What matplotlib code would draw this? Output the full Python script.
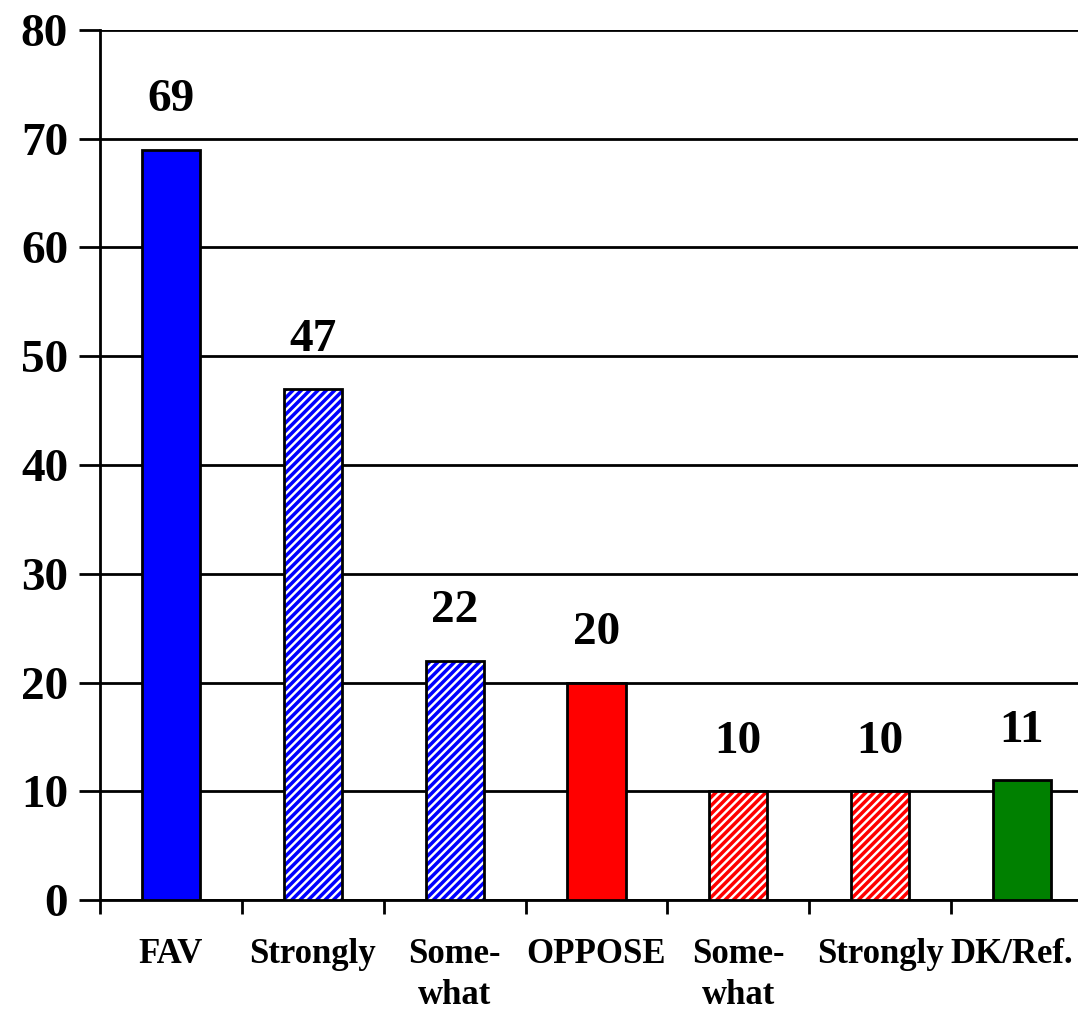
import matplotlib

matplotlib.use("Agg")
import matplotlib.pyplot as plt  # noqa: E402
from matplotlib.transforms import ScaledTranslation  # noqa: E402

categories = ["FAV", "Strongly", "Some-\nwhat", "OPPOSE", "Some-\nwhat", "Strongly", "DK/Ref."]
values = [69, 47, 22, 20, 10, 10, 11]
colors = ["#0000FF", "#0000FF", "#0000FF", "#FF0000", "#FF0000", "#FF0000", "#008000"]
hatched = [False, True, True, False, True, True, False]
yticks = [0, 10, 20, 30, 40, 50, 60, 70, 80]

plt.rcParams["font.family"] = ["Liberation Serif", "DejaVu Serif"]
plt.rcParams["font.weight"] = "bold"
plt.rcParams["hatch.linewidth"] = 2.5

fig = plt.figure(figsize=(10.78, 10.13), dpi=100)
ax = fig.add_axes([0.0928, 0.1115, 0.921, 0.859])

x = list(range(len(values)))
width = 0.41
for xi, v, c, h in zip(x, values, colors, hatched):
    if h:
        ax.bar(xi, v, width, color="white", edgecolor=c, hatch="////", linewidth=0, zorder=3)
        ax.bar(xi, v, width, fill=False, edgecolor="black", linewidth=2, zorder=4)
    else:
        ax.bar(xi, v, width, color=c, edgecolor="black", linewidth=2, zorder=3)
    ax.text(xi, v + 2.6, str(v), ha="center", va="bottom", fontsize=34, fontweight="bold")

ax.set_xlim(-0.5, 6.5)
ax.set_ylim(0, 80)
ax.set_yticks(yticks)
ax.set_yticklabels([str(t) for t in yticks], fontsize=34, fontweight="bold")
ax.yaxis.grid(True, color="black", linewidth=2, zorder=1)
ax.set_axisbelow(True)

ax.set_xticks(x)
ax.set_xticklabels(categories, fontsize=25, fontweight="bold", linespacing=1.35, va="top")
ax.set_xticks([i - 0.5 for i in range(len(values) + 1)], minor=True)
ax.tick_params(axis="x", which="major", length=0, pad=27)
ax.tick_params(axis="x", which="minor", length=10, width=2, direction="out")
ax.tick_params(axis="y", length=15, width=2, direction="out", pad=8)

# last label sits against the right edge in the original
last = ax.get_xticklabels()[-1]
last.set_transform(last.get_transform() + ScaledTranslation(-10 / 100, 0, fig.dpi_scale_trans))

for side in ("top", "right"):
    ax.spines[side].set_visible(False)
for side in ("left", "bottom"):
    ax.spines[side].set_linewidth(2)

fig.savefig("out.png", dpi=100)
plt.close(fig)
